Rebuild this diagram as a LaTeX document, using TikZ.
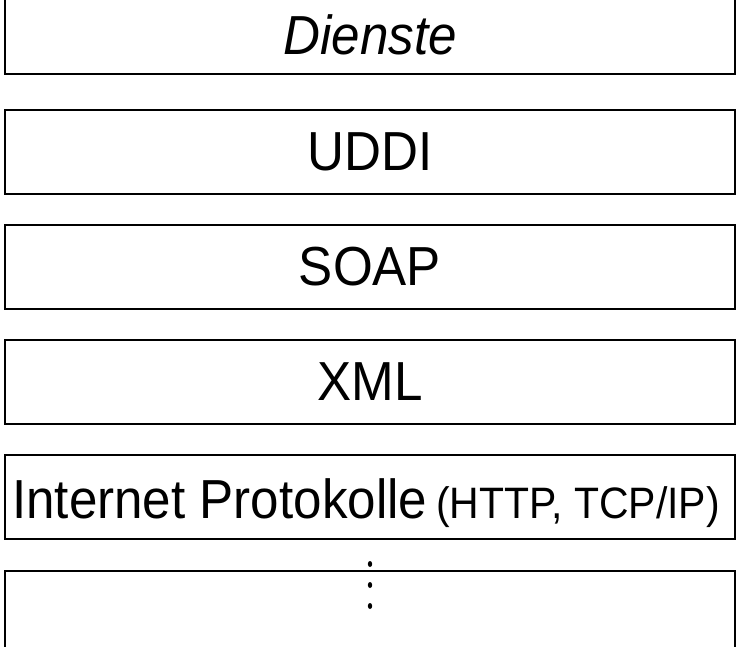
\documentclass[tikz,border=0pt]{standalone}
\usepackage{fontspec}
\setmainfont{Liberation Sans}[FakeStretch=0.93]
\begin{document}
\begin{tikzpicture}[x=1pt,y=-1pt,
  layer/.style={line width=1.8pt},
  big/.style={font=\fontsize{55}{60}\selectfont}]
\useasboundingbox (0,0) rectangle (736,646);
% open-topped layer for services
\draw[layer] (5,-5) -- (5,74) -- (735,74) -- (735,-5);
\node[font=\fontsize{55}{60}\selectfont\itshape] (dienste) at (370,35) {Dienste};
% closed layers
\draw[layer] (5,110) rectangle (735,194);
\node[big] (uddi) at (370,152) {UDDI};
\draw[layer] (5,225) rectangle (735,309);
\node[big] (soap) at (370,267) {SOAP};
\draw[layer] (5,340) rectangle (735,424);
\node[big] (xml) at (370,382) {XML};
\draw[layer] (5,455) rectangle (735,539);
\node[anchor=base west,inner sep=0pt] (inet) at (12,518)
  {\fontsize{55}{60}\selectfont Internet Protokolle\hspace{9pt}\fontsize{44}{48}\selectfont(HTTP, TCP/IP)};
% open-bottomed layer
\draw[layer] (5,656) -- (5,571) -- (735,571) -- (735,656);
\foreach \yy in {564,585,606}
  \fill (370,\yy) ellipse [x radius=2.2, y radius=3];
\end{tikzpicture}
\end{document}
